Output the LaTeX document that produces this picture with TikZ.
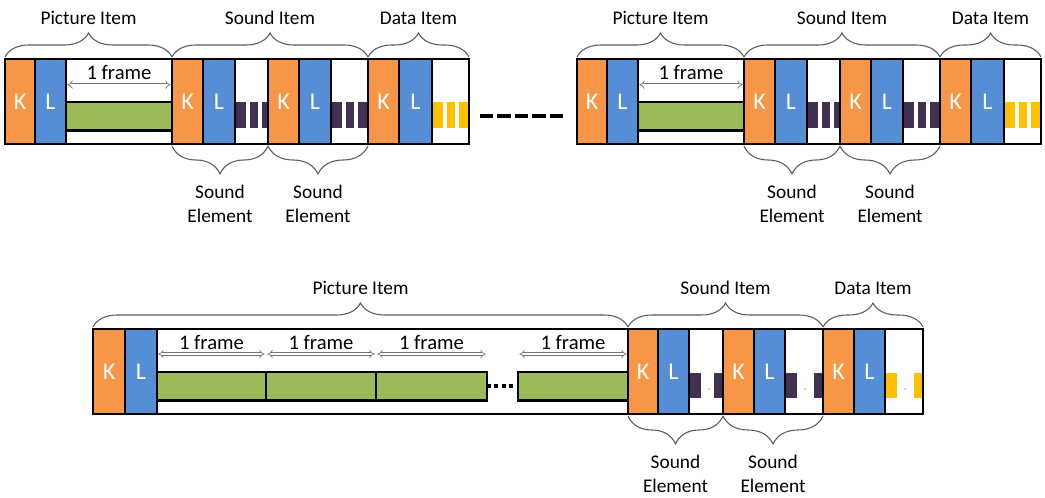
\documentclass[tikz,border=0pt]{standalone}
\usepackage{fontspec}
\setmainfont{Carlito}
\usetikzlibrary{positioning,arrows.meta,decorations.pathreplacing}

\definecolor{korange}{HTML}{F79646}
\definecolor{lblue}{HTML}{558ED5}
\definecolor{fgreen}{HTML}{9BBB59}
\definecolor{spurple}{HTML}{403152}
\definecolor{dyellow}{HTML}{FFC000}

\tikzset{
  cell/.style={draw=black, line width=2pt, rectangle, anchor=north west, inner sep=0pt, outer sep=0pt,
    minimum height=63.75pt, minimum width=#1*0.75pt, text=white, font=\fontsize{18}{18}\selectfont},
  kcell/.style={cell=#1, fill=korange},
  lcell/.style={cell=#1, fill=lblue},
  wcell/.style={cell=#1},
  rowbox/.style={cell=#1},
  bar/.style={draw=black, line width=2pt, fill=fgreen, anchor=north west, inner sep=0pt, outer sep=0pt,
    minimum width=#1*0.75pt, minimum height=21.5pt},
  frm/.style={draw=black!55, double, double distance=1.6pt, line width=0.5pt, {Implies}-{Implies},
    shorten <=1pt, shorten >=1pt},
  lbl/.style={font=\fontsize{14.5}{18}\selectfont, inner sep=0pt, align=center},
  flbl/.style={font=\fontsize{15.5}{18}\selectfont, inner sep=0pt},
  brc/.style={decorate, decoration={brace, amplitude=18pt}, draw=black!65, line width=0.8pt},
  brcb/.style={decorate, decoration={brace, amplitude=21pt}, draw=black!65, line width=0.8pt},
  dashln/.style={line width=3pt, dash pattern=on 10pt off 3.2pt},
  dotln/.style={line width=3pt, dash pattern=on 3pt off 2.6pt},
}

\begin{document}
\begin{tikzpicture}[x=0.75pt,y=-0.75pt]
\useasboundingbox (0,0) rectangle (1045,498);

% two short streams on top
\foreach \r/\s in {a/5,b/577}{
\begin{scope}[xshift=\s*0.75pt]
  \foreach \w/\e/\c in {230/263/spurple,326/363/spurple,427/464/dyellow}{
    \fill[\c] (\w+1.4,102) rectangle (\w+11,128);
    \fill[\c] (\w+15,102) rectangle (\w+23,128);
    \fill[\c] (\w+27,102) rectangle (\e-1.4,128);
  }
  \node[bar=106] (gb\r) at (61,102) {};
  \node[kcell=30] (pk\r) at (0,59) {K};
  \node[lcell=31, right=0pt of pk\r] (pl\r) {L};
  \node[kcell=31] (sk1\r) at (167,59) {K};
  \node[lcell=32, right=0pt of sk1\r] (sl1\r) {L};
  \node[wcell=33, right=0pt of sl1\r] (sw1\r) {};
  \node[kcell=31, right=0pt of sw1\r] (sk2\r) {K};
  \node[lcell=32, right=0pt of sk2\r] (sl2\r) {L};
  \node[wcell=37, right=0pt of sl2\r] (sw2\r) {};
  \node[kcell=31, right=0pt of sw2\r] (dk\r) {K};
  \node[lcell=33, right=0pt of dk\r] (dl\r) {L};
  \node[wcell=37, right=0pt of dl\r] (dw\r) {};
  \node[rowbox=464] (row\r) at (0,59) {};

  \draw[frm] ([yshift=13pt]gb\r.north west) -- ([yshift=13pt]gb\r.north east)
    node[flbl, midway, yshift=9.5pt] (fl\r) {1 frame};

  \draw[brc] ([yshift=1.5pt]pk\r.north west) -- ([yshift=1.5pt]sk1\r.north west)
    node[lbl, midway, yshift=29pt] (pi\r) {Picture Item};
  \draw[brc] ([yshift=1.5pt]sk1\r.north west) -- ([yshift=1.5pt]dk\r.north west)
    node[lbl, midway, yshift=29pt] (si\r) {Sound Item};
  \draw[brc] ([yshift=1.5pt]dk\r.north west) -- ([yshift=1.5pt]dw\r.north east)
    node[lbl, midway, yshift=29pt] (di\r) {Data Item};
  \draw[brcb] ([yshift=-1.5pt]sw1\r.south east) -- ([yshift=-1.5pt]sk1\r.south west)
    node[lbl, midway, yshift=-43.5pt] (se1\r) {Sound\\Element};
  \draw[brcb] ([yshift=-1.5pt]sw2\r.south east) -- ([yshift=-1.5pt]sk2\r.south west)
    node[lbl, midway, yshift=-43.5pt] (se2\r) {Sound\\Element};
\end{scope}
}
\draw[dashln] ([xshift=8pt]rowa.east |- gba.center) -- ([xshift=-8pt]rowb.west |- gbb.center);

% long stream below
\foreach \w/\e/\c in {689/723/spurple,785/823/spurple,885/923/dyellow}{
  \fill[\c] (\w+1.4,373) rectangle (\w+12,398);
  \fill[\c] (\e-9,373) rectangle (\e-1.4,398);
  \fill[black!70] (\w+20,389) circle (0.5pt);
}
\node[bar=109] (gb1) at (157,372) {};
\node[bar=110, right=0pt of gb1] (gb2) {};
\node[bar=111, right=0pt of gb2] (gb3) {};
\node[bar=110] (gb4) at (518,372) {};
\node[kcell=32] (pkc) at (93,329) {K};
\node[lcell=32, right=0pt of pkc] (plc) {L};
\node[kcell=30] (skc1) at (628,329) {K};
\node[lcell=31, right=0pt of skc1] (slc1) {L};
\node[wcell=34, right=0pt of slc1] (swc1) {};
\node[kcell=31, right=0pt of swc1] (skc2) {K};
\node[lcell=31, right=0pt of skc2] (slc2) {L};
\node[wcell=38, right=0pt of slc2] (swc2) {};
\node[kcell=31, right=0pt of swc2] (dkc) {K};
\node[lcell=31, right=0pt of dkc] (dlc) {L};
\node[wcell=38, right=0pt of dlc] (dwc) {};
\node[rowbox=830] (rowc) at (93,329) {};

\foreach \b in {gb1,gb2,gb3,gb4}
  \draw[frm] ([yshift=13.5pt]\b.north west) -- ([yshift=13.5pt]\b.north east)
    node[flbl, midway, yshift=9pt] {1 frame};
\draw[dotln] (gb3.east) -- (gb4.west);

\draw[brc] ([yshift=1.5pt]pkc.north west) -- ([yshift=1.5pt]skc1.north west)
  node[lbl, midway, yshift=29pt] (pic) {Picture Item};
\draw[brc] ([yshift=1.5pt]skc1.north west) -- ([yshift=1.5pt]dkc.north west)
  node[lbl, midway, yshift=29pt] (sic) {Sound Item};
\draw[brc] ([yshift=1.5pt]dkc.north west) -- ([yshift=1.5pt]dwc.north east)
  node[lbl, midway, yshift=29pt] (dic) {Data Item};
\draw[brcb] ([yshift=-1.5pt]swc1.south east) -- ([yshift=-1.5pt]skc1.south west)
  node[lbl, midway, yshift=-43.5pt] (se1c) {Sound\\Element};
\draw[brcb] ([yshift=-1.5pt]swc2.south east) -- ([yshift=-1.5pt]skc2.south west)
  node[lbl, midway, yshift=-43.5pt] (se2c) {Sound\\Element};
\end{tikzpicture}
\end{document}
